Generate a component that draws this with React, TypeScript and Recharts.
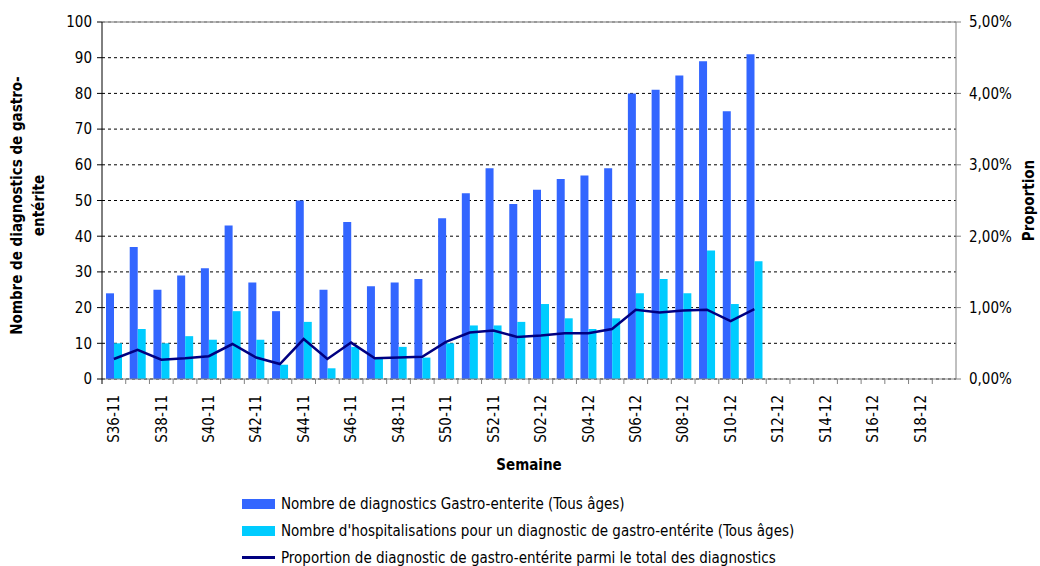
import {
  ComposedChart,
  Bar,
  Line,
  XAxis,
  YAxis,
  CartesianGrid,
  Legend,
  ReferenceLine,
} from "recharts";

document.body.style.margin = "0";

const weeks = [
  "S36-11", "S37-11", "S38-11", "S39-11", "S40-11", "S41-11", "S42-11", "S43-11",
  "S44-11", "S45-11", "S46-11", "S47-11", "S48-11", "S49-11", "S50-11", "S51-11",
  "S52-11", "S01-12", "S02-12", "S03-12", "S04-12", "S05-12", "S06-12", "S07-12",
  "S08-12", "S09-12", "S10-12", "S11-12", "S12-12", "S13-12", "S14-12", "S15-12",
  "S16-12", "S17-12", "S18-12", "S19-12",
];

const diagnostics = [
  24, 37, 25, 29, 31, 43, 27, 19, 50, 25, 44, 26, 27, 28, 45, 52, 59, 49, 53, 56,
  57, 59, 80, 81, 85, 89, 75, 91, null, null, null, null, null, null, null, null,
];

const hospitalisations = [
  10, 14, 10, 12, 11, 19, 11, 4, 16, 3, 9, 6, 9, 6, 10, 15, 15, 16, 21, 17,
  14, 17, 24, 28, 24, 36, 21, 33, null, null, null, null, null, null, null, null,
];

// en %
const proportion = [
  0.28, 0.41, 0.27, 0.29, 0.32, 0.49, 0.3, 0.21, 0.56, 0.28, 0.51, 0.29, 0.3, 0.31,
  0.52, 0.65, 0.68, 0.59, 0.61, 0.64, 0.64, 0.7, 0.97, 0.93, 0.96, 0.97, 0.81, 0.98,
  null, null, null, null, null, null, null, null,
];

const leftTicks = [0, 10, 20, 30, 40, 50, 60, 70, 80, 90, 100];
const rightTicks = [0, 1, 2, 3, 4, 5];

const data = weeks.map((w, i) => ({
  week: w,
  diag: diagnostics[i],
  hosp: hospitalisations[i],
  prop: proportion[i],
}));

const FONT = "'DejaVu Sans Condensed', 'Liberation Sans Narrow', 'Liberation Sans', sans-serif";
const BLUE = "#3366ff";
const CYAN = "#00ccff";
const NAVY = "#000080";

const fmtPct = (v: number) => v.toFixed(2).replace(".", ",") + "%";

function WeekTick(props: any) {
  const { x, y, payload, index } = props;
  const half = payload?.offset ?? 11.86;
  return (
    <g>
      <line x1={x - half} x2={x - half} y1={y - 5} y2={y} stroke={index === 0 ? "#000" : "#808080"} />
      {index % 2 === 0 && (
        <text
          x={x}
          y={y + 11}
          transform={`rotate(-90, ${x}, ${y + 11})`}
          textAnchor="end"
          dy="0.35em"
          fontSize={15}
          fontFamily={FONT}
          fill="#000"
        >
          {payload.value}
        </text>
      )}
    </g>
  );
}

function LeftLabel(props: any) {
  const vb = props.viewBox || {};
  const cy = (vb.y ?? 22) + (vb.height ?? 357) / 2 + 5;
  return (
    <text
      transform={`rotate(-90, 0, ${cy})`}
      x={0}
      y={cy}
      textAnchor="middle"
      fontFamily={FONT}
      fontSize={15}
      fontWeight="bold"
      fill="#000"
    >
      <tspan x={0} dy={22}>Nombre de diagnostics de gastro-</tspan>
      <tspan x={0} dy={22}>entérite</tspan>
    </text>
  );
}

function RightLabel(props: any) {
  const vb = props.viewBox || {};
  const cy = (vb.y ?? 22) + (vb.height ?? 357) / 2;
  const cx = 1029;
  return (
    <text
      transform={`rotate(-90, ${cx}, ${cy})`}
      x={cx}
      y={cy}
      dy="0.35em"
      textAnchor="middle"
      fontFamily={FONT}
      fontSize={15}
      fontWeight="bold"
      fill="#000"
    >
      Proportion
    </text>
  );
}

const legendItems = [
  { label: "Nombre de diagnostics Gastro-enterite (Tous âges)", color: BLUE, type: "bar" },
  {
    label: "Nombre d'hospitalisations pour un diagnostic de gastro-entérite (Tous âges)",
    color: CYAN,
    type: "bar",
  },
  {
    label: "Proportion de diagnostic de gastro-entérite parmi le total des diagnostics",
    color: NAVY,
    type: "line",
  },
];

function LegendBox() {
  return (
    <div style={{ fontFamily: FONT, fontSize: 15, color: "#000" }}>
      {legendItems.map((it) => (
        <div key={it.label} style={{ display: "flex", alignItems: "center", height: 27 }}>
          <span
            style={{
              display: "inline-block",
              width: 33,
              height: it.type === "bar" ? 10 : 3,
              background: it.color,
              marginRight: 6,
            }}
          />
          <span style={{ whiteSpace: "nowrap" }}>{it.label}</span>
        </div>
      ))}
    </div>
  );
}

export default function App() {
  return (
    <div style={{ width: 1040, height: 566, background: "#fff" }}>
      <ComposedChart
        width={1040}
        height={566}
        data={data}
        margin={{ top: 22, right: 0, bottom: 0, left: 0 }}
        barCategoryGap="20%"
        barGap={0}
      >
        <CartesianGrid
          vertical={false}
          stroke="#000"
          strokeDasharray="3 3"
          yAxisId="left"
        />
        <ReferenceLine yAxisId="left" y={100} stroke="#a0a0a0" strokeWidth={1.5} />
        <XAxis
          dataKey="week"
          interval={0}
          height={187}
          tick={<WeekTick />}
          tickLine={false}
          tickSize={5}
          tickMargin={0}
          axisLine={{ stroke: "#808080" }}
          label={{
            value: "Semaine",
            position: "insideBottom",
            offset: 96,
            fontFamily: FONT,
            fontSize: 15,
            fontWeight: "bold",
            fill: "#000",
          }}
        />
        <YAxis
          yAxisId="left"
          width={102}
          domain={[0, 100]}
          ticks={leftTicks}
          interval={0}
          tickSize={5}
          tickMargin={5}
          tick={{ fontFamily: FONT, fontSize: 15, fill: "#000" }}
          axisLine={{ stroke: "#000" }}
          tickLine={{ stroke: "#000" }}
          label={<LeftLabel />}
        />
        <YAxis
          yAxisId="right"
          orientation="right"
          width={84}
          domain={[0, 5]}
          ticks={rightTicks}
          interval={0}
          tickFormatter={fmtPct}
          tickSize={5}
          tickMargin={8}
          tick={{ fontFamily: FONT, fontSize: 15, fill: "#000" }}
          axisLine={{ stroke: "#808080" }}
          tickLine={{ stroke: "#808080" }}
          label={<RightLabel />}
        />
        <Bar
          yAxisId="left"
          dataKey="diag"
          fill={BLUE}
          barSize={8}
          isAnimationActive={false}
        />
        <Bar
          yAxisId="left"
          dataKey="hosp"
          fill={CYAN}
          barSize={8}
          isAnimationActive={false}
        />
        <Line
          yAxisId="right"
          dataKey="prop"
          stroke={NAVY}
          strokeWidth={2.5}
          dot={false}
          connectNulls={false}
          isAnimationActive={false}
        />
        <Legend
          layout="vertical"
          verticalAlign="middle"
          align="center"
          content={<LegendBox />}
          wrapperStyle={{ top: 490, left: 242, width: 620, height: 81 }}
        />
      </ComposedChart>
    </div>
  );
}
